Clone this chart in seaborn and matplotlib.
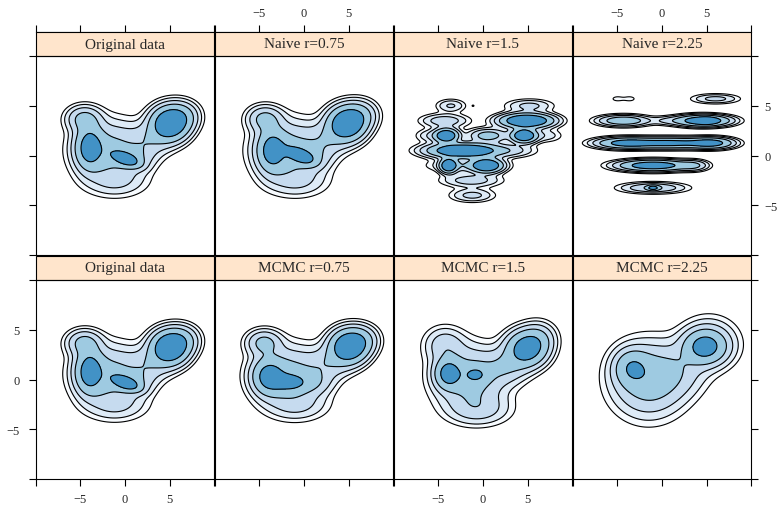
import numpy as np
import pandas as pd
import seaborn as sns
import matplotlib
matplotlib.use("Agg")
import matplotlib.pyplot as plt
from matplotlib.patches import Rectangle

# panel titles, top row then bottom row
top_titles = ["Original data", "Naive r=0.75", "Naive r=1.5", "Naive r=2.25"]
bottom_titles = ["Original data", "MCMC r=0.75", "MCMC r=1.5", "MCMC r=2.25"]

# density bumps: (x, y, sd_x, sd_y, weight, rho)
original = [(-4.0, 0.8, 0.95, 1.3, 0.14, 0.0),
            (0.0, -0.3, 1.0, 0.5, 0.055, -0.5),
            (5.0, 3.2, 1.3, 1.05, 0.24, 0.0),
            (-1.8, 0.5, 2.4, 1.8, 0.24, 0.0),
            (1.5, -0.3, 1.2, 0.8, 0.02, 0.0),
            (-4.6, 3.7, 1.2, 0.8, 0.05, 0.0),
            (-1.0, -2.6, 2.2, 1.0, 0.045, 0.0),
            (2.8, 1.5, 1.6, 1.1, 0.05, 0.0),
            (6.4, 4.0, 1.2, 0.9, 0.05, 0.0)]

naive_075 = [(-3.6, 0.5, 1.0, 1.3, 0.13, 0.0),
             (-0.4, 0.0, 1.0, 0.55, 0.055, -0.5),
             (4.8, 3.2, 1.3, 1.05, 0.24, 0.0),
             (-1.7, 0.5, 2.4, 1.8, 0.25, 0.0),
             (1.3, -0.2, 1.2, 0.8, 0.02, 0.0),
             (-4.4, 3.7, 1.2, 0.8, 0.05, 0.0),
             (-0.8, -2.6, 2.2, 1.0, 0.045, 0.0),
             (2.7, 1.6, 1.6, 1.1, 0.05, 0.0),
             (6.3, 4.1, 1.2, 0.9, 0.05, 0.0)]

naive_15 = [(-3.6, 5.0, 1.0, 0.4, 0.010, 0.0),
            (-1.1, 5.0, 0.15, 0.1, 0.0001, 0.0),
            (5.2, 5.0, 1.6, 0.4, 0.018, 0.0),
            (-4.3, 3.5, 1.6, 0.42, 0.024, 0.0),
            (4.9, 3.5, 1.7, 0.42, 0.157, 0.0),
            (-4.1, 2.0, 0.8, 0.42, 0.063, 0.0),
            (0.6, 2.0, 1.3, 0.42, 0.035, 0.0),
            (4.6, 2.0, 0.85, 0.42, 0.067, 0.0),
            (-6.0, 2.0, 1.0, 0.42, 0.008, 0.0),
            (7.0, 2.0, 1.2, 0.42, 0.009, 0.0),
            (-2.15, 0.5, 2.3, 0.42, 0.212, 0.0),
            (3.0, 0.5, 1.8, 0.42, 0.020, 0.0),
            (-3.85, -1.0, 0.55, 0.42, 0.044, 0.0),
            (0.45, -1.0, 1.0, 0.42, 0.079, 0.0),
            (-1.8, -1.0, 2.4, 0.42, 0.038, 0.0),
            (-1.3, -2.5, 2.0, 0.42, 0.028, 0.0),
            (-1.2, -4.0, 1.5, 0.42, 0.018, 0.0)]

naive_225 = [(-5.0, 5.7, 0.55, 0.22, 0.0011, 0.0),
             (-3.6, 5.7, 0.55, 0.22, 0.0011, 0.0),
             (6.0, 5.7, 1.6, 0.3, 0.014, 0.0),
             (-4.3, 3.5, 1.7, 0.33, 0.045, 0.0),
             (0.6, 3.5, 1.2, 0.28, 0.006, 0.0),
             (4.6, 3.5, 1.8, 0.33, 0.10, 0.0),
             (5.0, 3.5, 0.6, 0.2, 0.012, 0.0),
             (-4.0, 1.25, 2.0, 0.33, 0.085, 0.0),
             (1.0, 1.25, 2.5, 0.33, 0.10, 0.0),
             (5.5, 1.25, 1.5, 0.33, 0.062, 0.0),
             (-1.0, -1.0, 2.3, 0.33, 0.12, 0.0),
             (3.5, -1.0, 1.0, 0.33, 0.014, 0.0),
             (-1.0, -3.25, 2.2, 0.33, 0.032, 0.0),
             (-1.0, -3.25, 0.4, 0.15, 0.006, 0.0)]

mcmc_075 = [(-4.0, 0.3, 1.1, 1.1, 0.12, 0.0),
            (-1.5, -0.3, 1.3, 0.6, 0.055, 0.0),
            (5.0, 3.3, 1.3, 1.05, 0.23, 0.0),
            (-1.8, 0.4, 2.4, 1.8, 0.25, 0.0),
            (1.4, -0.3, 1.2, 0.8, 0.02, 0.0),
            (-4.5, 3.7, 1.2, 0.8, 0.05, 0.0),
            (-0.8, -2.6, 2.2, 1.0, 0.045, 0.0),
            (2.8, 1.6, 1.6, 1.1, 0.05, 0.0),
            (6.4, 4.0, 1.2, 0.9, 0.05, 0.0)]

mcmc_15 = [(-3.9, 0.6, 0.9, 0.9, 0.085, 0.0),
           (-0.8, 0.5, 0.8, 0.5, 0.022, 0.0),
           (4.9, 3.1, 1.4, 1.1, 0.21, 0.0),
           (-1.5, 0.2, 2.4, 1.9, 0.28, 0.0),
           (-4.3, 3.5, 1.4, 1.1, 0.05, 0.0),
           (-0.5, -3.0, 2.2, 1.0, 0.06, 0.0),
           (2.7, 1.3, 1.6, 1.1, 0.06, 0.0),
           (6.3, 4.2, 1.2, 1.0, 0.04, 0.0)]

mcmc_225 = [(-3.4, 1.2, 1.2, 1.1, 0.085, 0.0),
            (-1.5, 0.0, 2.5, 2.2, 0.37, 0.0),
            (4.8, 3.3, 1.4, 1.0, 0.14, 0.0),
            (5.3, 3.6, 2.0, 1.6, 0.11, 0.0),
            (2.0, 0.8, 2.0, 1.6, 0.07, 0.0)]

components = {"Original data": original,
              "Naive r=0.75": naive_075, "Naive r=1.5": naive_15,
              "Naive r=2.25": naive_225,
              "MCMC r=0.75": mcmc_075, "MCMC r=1.5": mcmc_15,
              "MCMC r=2.25": mcmc_225}

levels = [0.001, 0.0019, 0.0036, 0.007, 0.015, 1.0]
fills = ["#F7FBFF", "#DEEBF7", "#C6DBEF", "#9ECAE1", "#4292C6"]

ticks = [-10, -5, 0, 5, 10]
tick_labels = ["", "\u22125", "0", "5", ""]
blank = [""] * 5

grid = np.linspace(-10, 10, 400)
X, Y = np.meshgrid(grid, grid)


def density(comps):
    z = np.zeros_like(X)
    for cx, cy, sx, sy, w, rho in comps:
        dx = (X - cx) / sx
        dy = (Y - cy) / sy
        q = (dx ** 2 - 2 * rho * dx * dy + dy ** 2) / (1 - rho ** 2)
        z += w / (2 * np.pi * sx * sy * np.sqrt(1 - rho ** 2)) * np.exp(-0.5 * q)
    return z


def draw_density(data, **kws):
    ax = plt.gca()
    z = density(components[data["panel"].iloc[0]])
    ax.contourf(X, Y, z, levels=levels, colors=fills)
    ax.contour(X, Y, z, levels=levels[:-1], colors="black", linewidths=0.8)


df = pd.DataFrame({"row": [0] * 4 + [1] * 4,
                   "col": [0, 1, 2, 3] * 2,
                   "panel": top_titles + bottom_titles})

sns.set_theme(style="ticks")
plt.rcParams["font.family"] = ["Liberation Serif", "DejaVu Serif"]

g = sns.FacetGrid(df, row="row", col="col", sharex=False, sharey=False,
                  despine=False, height=2.5, aspect=0.9)
g.map_dataframe(draw_density)
g.set_titles("")
g.set_axis_labels("", "")

fig = g.figure
fig.set_size_inches(7.81, 5.06)
W, H = 781, 506
col_left = [35.7, 214.7, 393.7, 572.7]
row_top = [57, 281]
pw, ph, sh = 178.5, 199, 24
tick_kw = dict(direction="out", length=5.2, width=0.8, color="black",
               labelsize=9)

for r in range(2):
    for c in range(4):
        ax = g.axes[r, c]
        ax.set_position([col_left[c] / W, 1 - (row_top[r] + ph) / H, pw / W, ph / H])
        ax.set_xlim(-10, 10)
        ax.set_ylim(-10, 10)
        ax.set_xticks(ticks)
        ax.set_yticks(ticks)
        for s in ax.spines.values():
            s.set_color("black")
            s.set_linewidth(0.8)
        ax.tick_params(**tick_kw)
        # x axis: bottom row only, labels alternate
        if r == 1:
            ax.set_xticklabels(tick_labels if c % 2 == 0 else blank)
            ax.tick_params(axis="x", bottom=True, top=False, pad=5)
        else:
            ax.tick_params(axis="x", bottom=False, top=False, labelbottom=False)
            sec = ax.secondary_xaxis(1 + sh / ph)
            sec.set_xticks(ticks, labels=tick_labels if c % 2 == 1 else blank)
            sec.tick_params(pad=4.5, **tick_kw)
            sec.spines["top"].set_color("black")
            sec.spines["top"].set_linewidth(0.8)
        # y axis: left on first column, right on last column
        if c == 0:
            ax.yaxis.set_ticks_position("left")
            ax.set_yticklabels(tick_labels if r == 1 else blank)
            ax.tick_params(axis="y", pad=6.5)
        elif c == 3:
            ax.yaxis.set_ticks_position("right")
            ax.set_yticklabels(tick_labels if r == 0 else blank)
            ax.tick_params(axis="y", pad=4.5)
        else:
            ax.tick_params(axis="y", left=False, right=False, labelleft=False)
        # strip
        ax.add_patch(Rectangle((0, 1), 1, sh / ph, transform=ax.transAxes,
                               clip_on=False, facecolor="#FFE5CC",
                               edgecolor="black", linewidth=0.8))
        title = top_titles[c] if r == 0 else bottom_titles[c]
        ax.text(0.5, 1 + sh / ph / 2, title, transform=ax.transAxes,
                ha="center", va="center", fontsize=11)

fig.savefig("out.png", dpi=100)
